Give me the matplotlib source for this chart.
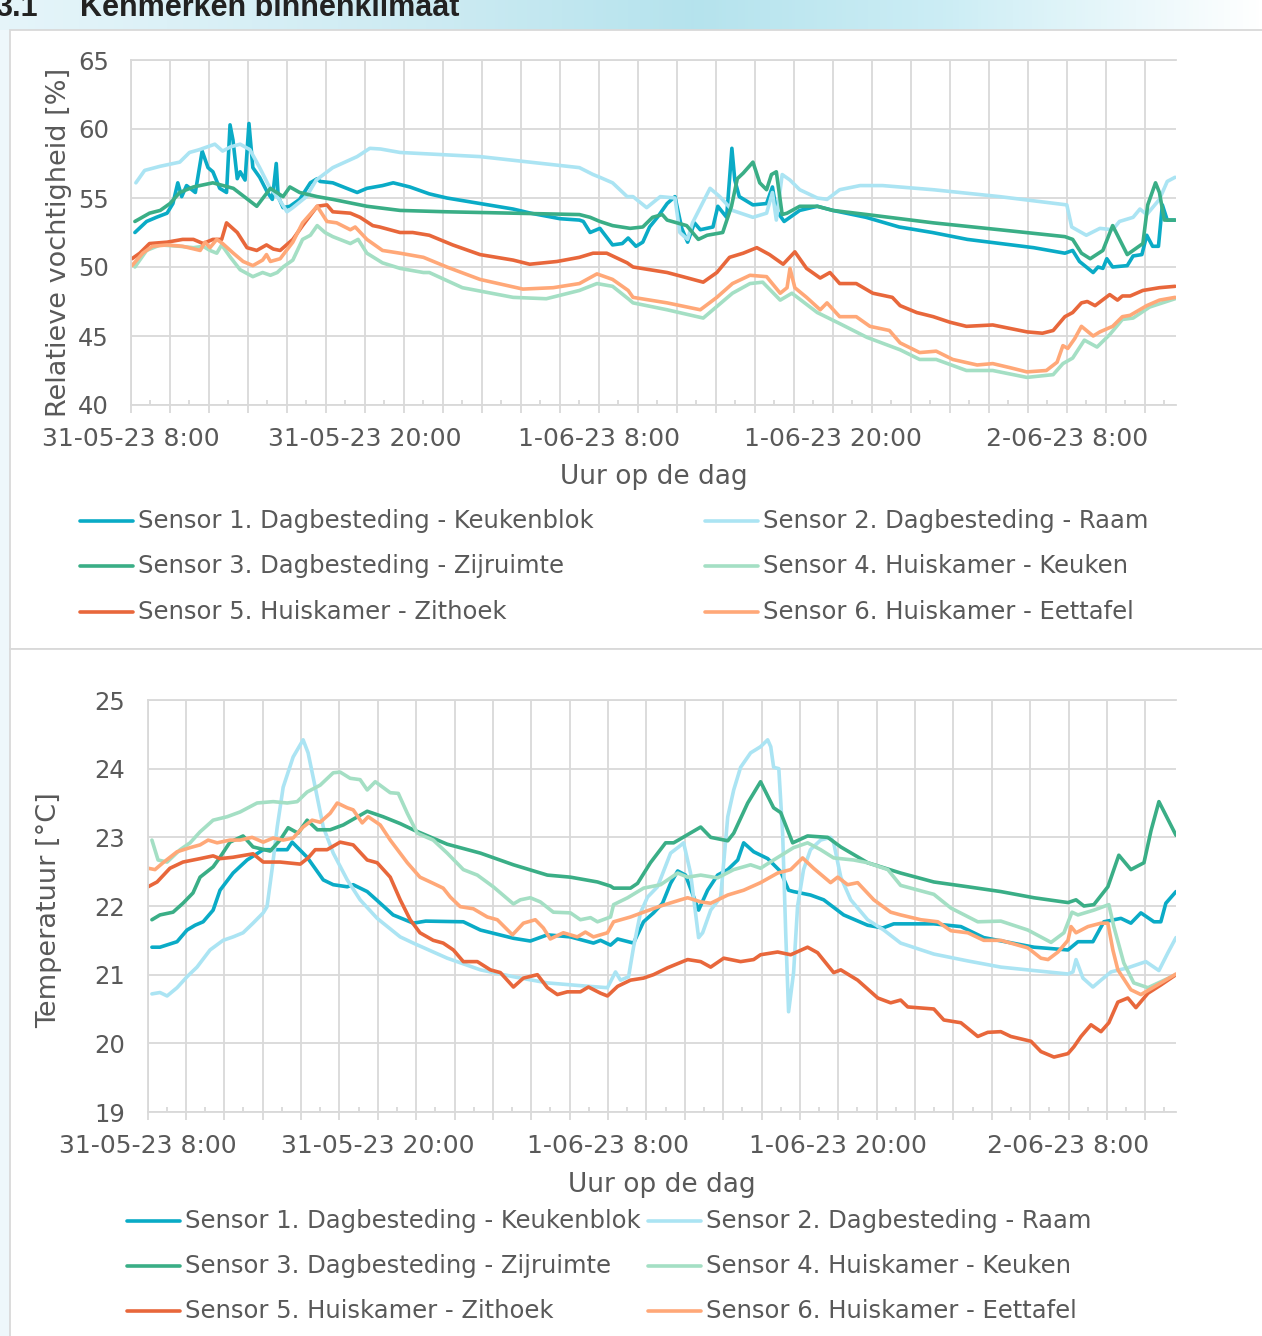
import datetime as dt
import numpy as np
import matplotlib
matplotlib.use("Agg")
import matplotlib.pyplot as plt
from matplotlib.lines import Line2D
from matplotlib.patches import Rectangle
from matplotlib.ticker import MultipleLocator, FuncFormatter

plt.rcParams['font.family'] = ['DejaVu Sans']

# meetperiode: uren vanaf 31-05-23 8:00
START = dt.datetime(2023, 5, 31, 8, 0)
T_END = 53.6

labels = ['Sensor 1. Dagbesteding - Keukenblok', 'Sensor 2. Dagbesteding - Raam',
          'Sensor 3. Dagbesteding - Zijruimte', 'Sensor 4. Huiskamer - Keuken',
          'Sensor 5. Huiskamer - Zithoek', 'Sensor 6. Huiskamer - Eettafel']
colors = ['#0aabc6', '#abe4f3', '#3aae86', '#a4dfc4', '#e8673b', '#ffa878']

# ---- relatieve vochtigheid [%] ----
rh1_t = [0.2, 0.8, 1.3, 1.85, 2.15, 2.4, 2.6, 2.85, 3.3, 3.65, 3.95, 4.2, 4.55, 4.9, 5.08, 5.23, 5.45, 5.6, 5.85,
         6.05, 6.25, 6.6, 7.0, 7.25, 7.45, 7.55, 7.8, 8.15, 8.65, 9.2, 9.55, 9.7, 10.35, 11.6, 12.1, 12.9, 13.45,
         14.3, 15.3, 16.2, 17.9, 19.6, 20.5, 22.0, 23.0, 23.2, 23.55, 24.05, 24.7, 25.2, 25.5, 25.9, 26.25, 26.6,
         27.0, 27.5, 27.9, 28.25, 28.55, 28.9, 29.2, 29.85, 30.1, 30.55, 30.82, 30.97, 31.2, 31.9, 32.6, 32.9,
         33.1, 33.5, 34.3, 35.2, 36.0, 37.7, 39.4, 41.1, 42.9, 44.6, 46.3, 47.9, 48.3, 48.65, 49.35, 49.6, 49.85,
         50.05, 50.35, 51.1, 51.4, 51.85, 52.1, 52.4, 52.7, 52.9, 53.15, 53.55]
rh1_v = [52.5, 53.3, 53.6, 53.9, 54.6, 56.1, 55.1, 55.9, 55.4, 58.4, 57.2, 56.9, 55.7, 55.4, 60.3, 59.2, 56.4, 56.9, 56.3,
         60.4, 57.2, 56.5, 55.4, 54.9, 57.5, 55.1, 54.3, 54.4, 54.9, 56.1, 56.4, 56.2, 56.1, 55.4, 55.7, 55.9, 56.1,
         55.8, 55.3, 55.0, 54.6, 54.2, 53.9, 53.5, 53.4, 53.3, 52.5, 52.8, 51.6, 51.7, 52.1, 51.5, 51.8, 52.9,
         53.6, 54.6, 55.1, 52.8, 51.8, 53.2, 52.7, 52.9, 54.4, 53.6, 58.6, 56.3, 55.1, 54.5, 54.6, 55.8,
         54.1, 53.3, 54.1, 54.4, 54.1, 53.6, 52.9, 52.5, 52.0, 51.7, 51.4, 51.0, 51.2, 50.4, 49.6, 50.0, 49.9,
         50.6, 50.0, 50.1, 50.8, 50.9, 52.3, 51.5, 51.5, 54.5, 53.4, 53.4]

rh2_t = [0.25, 0.7, 1.5, 2.5, 3.0, 3.5, 4.3, 4.7, 5.1, 5.6, 6.1, 6.6, 7.1, 7.6, 8.0, 8.3, 9.0, 9.5, 10.35, 11.6,
         12.25, 12.8, 13.8, 17.9, 23.0, 23.7, 24.05, 24.7, 25.45, 25.75, 26.45, 27.15, 27.9, 28.15, 28.55, 28.8,
         29.7, 30.2, 30.85, 31.9, 32.6, 32.9, 33.1, 33.4, 33.8, 34.3, 35.2, 35.7, 36.35, 37.4, 38.55, 41.15,
         44.55, 48.0, 48.25, 49.0, 49.7, 50.35, 50.7, 51.4, 51.75, 52.1, 52.75, 53.15, 53.55]
rh2_v = [56.1, 57.0, 57.3, 57.6, 58.3, 58.5, 58.9, 58.4, 58.7, 58.9, 58.5, 57.2, 55.8, 54.9, 54.0, 54.3, 55.1, 56.3,
         57.2, 58.0, 58.6, 58.55, 58.3, 58.0, 57.2, 56.7, 56.5, 56.1, 55.1, 55.1, 54.3, 55.1, 55.0, 52.5, 52.0,
         53.2, 55.7, 55.1, 54.1, 53.6, 53.9, 55.4, 53.4, 56.7, 56.3, 55.6, 55.0, 54.9, 55.6, 55.9, 55.9, 55.6,
         55.1, 54.5, 52.9, 52.3, 52.8, 52.7, 53.3, 53.6, 54.2, 53.8, 54.9, 56.2, 56.5]

rh3_t = [0.2, 0.95, 1.5, 2.0, 2.5, 3.2, 4.2, 5.25, 6.45, 7.15, 7.8, 8.15, 8.65, 9.55, 10.35, 12.1, 13.8, 16.2,
         23.0, 23.55, 24.05, 24.7, 25.6, 26.25, 26.75, 27.25, 27.5, 28.5, 29.1, 29.55, 30.35, 30.8, 31.1, 31.4,
         31.9, 32.25, 32.6, 32.85, 33.1, 33.4, 33.65, 34.3, 35.2, 36.0, 37.75, 41.15, 44.55, 47.9, 48.3, 48.75,
         49.2, 49.85, 50.35, 51.1, 51.6, 51.9, 52.15, 52.55, 52.75, 53.0, 53.55]
rh3_v = [53.3, 53.9, 54.1, 54.6, 55.4, 55.8, 56.1, 55.7, 54.4, 55.7, 55.1, 55.8, 55.4, 55.1, 54.9, 54.4, 54.1, 54.0,
         53.8, 53.6, 53.3, 53.0, 52.8, 52.9, 53.6, 53.8, 53.4, 53.0, 52.0, 52.3, 52.5, 54.4, 56.4, 56.8,
         57.6, 56.1, 55.6, 56.7, 56.9, 53.8, 53.9, 54.4, 54.4, 54.1, 53.8, 53.2, 52.7, 52.2, 52.0, 51.0,
         50.6, 51.2, 53.0, 50.9, 51.4, 51.7, 54.5, 56.1, 55.4, 53.4, 53.4]

rh4_t = [0.2, 0.8, 1.5, 2.5, 3.2, 3.7, 4.05, 4.4, 4.65, 5.1, 5.6, 6.25, 6.75, 7.15, 7.5, 7.8, 8.3, 8.8, 9.2, 9.55,
         9.95, 10.35, 11.25, 11.65, 12.1, 12.9, 13.8, 15.0, 15.3, 17.0, 19.6, 21.3, 23.0, 23.9, 24.7, 25.5,
         25.75, 27.5, 29.35, 30.85, 31.75, 32.4, 33.3, 33.9, 35.2, 36.35, 37.75, 39.45, 40.45, 41.3, 42.85,
         44.2, 45.95, 47.3, 47.8, 48.3, 48.9, 49.55, 50.2, 50.85, 51.4, 52.25, 53.55]
rh4_v = [50.0, 51.2, 51.6, 51.5, 51.4, 51.5, 51.2, 51.0, 51.6, 50.7, 49.8, 49.3, 49.6, 49.4, 49.6, 50.0, 50.5, 52.0,
         52.3, 53.0, 52.5, 52.2, 51.7, 52.0, 51.0, 50.3, 49.9, 49.6, 49.6, 48.5, 47.8, 47.7, 48.3, 48.8, 48.6,
         47.7, 47.4, 46.9, 46.3, 48.1, 48.8, 48.9, 47.6, 48.1, 46.7, 45.9, 44.9, 44.0, 43.3, 43.3, 42.5,
         42.5, 42.0, 42.2, 43.0, 43.4, 44.7, 44.2, 45.1, 46.2, 46.3, 47.1, 47.7]

rh5_t = [0.05, 0.45, 0.95, 1.85, 2.65, 3.2, 3.7, 4.2, 4.65, 4.9, 5.45, 5.95, 6.45, 6.95, 7.3, 7.65, 8.3, 8.8, 9.55,
         10.05, 10.35, 11.25, 11.75, 12.4, 12.75, 13.8, 14.45, 15.3, 16.5, 17.9, 19.6, 20.45, 21.85, 23.0,
         23.7, 24.4, 25.45, 25.75, 27.5, 28.3, 29.35, 30.05, 30.7, 31.4, 32.1, 32.75, 33.45, 34.05, 34.65,
         35.35, 35.85, 36.35, 37.2, 38.05, 39.05, 39.45, 40.3, 41.15, 42.0, 42.85, 44.2, 44.9, 45.95, 46.75,
         47.3, 47.9, 48.3, 48.75, 49.05, 49.45, 50.2, 50.6, 50.85, 51.25, 51.9, 52.75, 53.55]
rh5_v = [50.6, 51.0, 51.7, 51.8, 52.0, 52.0, 51.7, 52.0, 52.0, 53.2, 52.5, 51.4, 51.2, 51.6, 51.3, 51.2, 52.0, 53.0, 54.4,
         54.5, 54.0, 53.9, 53.6, 53.0, 52.9, 52.5, 52.5, 52.3, 51.6, 50.9, 50.5, 50.2, 50.4, 50.7,
         51.0, 51.0, 50.3, 50.0, 49.6, 49.3, 48.9, 49.6, 50.7, 51.0, 51.4, 50.9, 50.2, 51.1, 49.9,
         49.2, 49.6, 48.8, 48.8, 48.1, 47.8, 47.2, 46.7, 46.4, 46.0, 45.7, 45.8, 45.6, 45.3, 45.2,
         45.4, 46.4, 46.7, 47.4, 47.5, 47.2, 48.0, 47.6, 47.9, 47.9, 48.3, 48.5, 48.6]

rh6_t = [0.05, 0.6, 1.1, 1.85, 2.65, 3.55, 3.8, 4.05, 4.4, 4.7, 5.25, 5.75, 6.25, 6.75, 6.95, 7.15, 7.65, 8.3, 8.8,
         9.55, 10.05, 10.55, 11.25, 11.5, 12.1, 12.9, 13.8, 15.0, 16.2, 17.9, 20.1, 21.65, 23.0, 23.9, 24.7,
         25.5, 25.75, 27.5, 29.2, 30.05, 30.85, 31.75, 32.6, 33.3, 33.65, 33.8, 34.05, 34.65, 35.35, 35.7,
         36.35, 37.2, 37.9, 38.9, 39.45, 40.45, 41.3, 42.15, 43.4, 44.2, 45.1, 45.95, 46.95, 47.5, 47.8,
         48.05, 48.4, 48.75, 49.35, 49.7, 50.35, 50.85, 51.25, 52.1, 52.75, 53.55]
rh6_v = [50.1, 51.0, 51.5, 51.6, 51.5, 51.2, 51.8, 51.4, 52.0, 51.7, 51.0, 50.4, 50.1, 50.5, 50.9, 50.4, 50.6, 51.8, 53.2,
         54.4, 53.3, 53.2, 52.7, 52.9, 52.0, 51.2, 51.0, 50.7, 50.0, 49.1, 48.4, 48.5, 48.8, 49.5, 49.1,
         48.3, 47.8, 47.4, 46.9, 47.8, 48.8, 49.4, 49.3, 48.1, 48.5, 49.9, 48.5, 47.8, 46.9, 47.4,
         46.4, 46.4, 45.7, 45.4, 44.5, 43.8, 43.9, 43.3, 42.9, 43.0, 42.7, 42.4, 42.5, 43.1, 44.3,
         44.1, 44.8, 45.7, 45.0, 45.3, 45.7, 46.4, 46.5, 47.2, 47.6, 47.8]

# ---- temperatuur [°C] ----
tc1_t = [0.23, 0.65, 1.54, 2.06, 2.48, 2.9, 3.42, 3.78, 4.46, 5.19, 6.03, 6.55, 7.28, 7.54, 8.32, 9.16, 9.68,
         10.41, 10.72, 11.45, 12.13, 12.8, 13.85, 14.5, 16.46, 17.35, 19.07, 19.95, 20.84, 22.04, 23.24, 23.61,
         24.13, 24.5, 25.33, 25.85, 26.37, 26.84, 27.26, 27.63, 28.04, 28.72, 29.19, 29.71, 30.24, 30.76,
         31.07, 31.59, 32.32, 33.0, 33.41, 33.67, 34.55, 35.24, 36.28, 37.53, 38.32, 38.89, 40.98, 42.39,
         43.58, 46.2, 47.97, 48.49, 49.27, 49.84, 50.73, 51.25, 51.77, 52.45, 52.81, 53.07, 53.6]
tc1_v = [21.40, 21.40, 21.48, 21.65, 21.72, 21.77, 21.94, 22.23, 22.48, 22.67, 22.82, 22.82, 22.82, 22.93, 22.71,
         22.38, 22.31, 22.28, 22.31, 22.21, 22.04, 21.87, 21.75, 21.78, 21.77, 21.65, 21.53, 21.49, 21.58, 21.55,
         21.46, 21.50, 21.43, 21.52, 21.46, 21.77, 21.90, 22.04, 22.33, 22.51, 22.45, 21.94, 22.23, 22.45,
         22.53, 22.67, 22.92, 22.79, 22.69, 22.50, 22.23, 22.21, 22.16, 22.09, 21.87, 21.72, 21.68, 21.74,
         21.74, 21.70, 21.54, 21.40, 21.36, 21.48, 21.48, 21.77, 21.82, 21.75, 21.90, 21.77, 21.77, 22.04, 22.21]

tc2_t = [0.23, 0.65, 1.02, 1.54, 2.06, 2.58, 3.26, 3.94, 4.46, 4.98, 5.5, 6.03, 6.23, 6.49, 6.76, 7.07, 7.59,
         8.11, 8.37, 8.74, 9.16, 9.68, 10.41, 11.08, 11.97, 13.17, 13.85, 15.62, 17.35, 19.07, 20.84, 22.56,
         23.97, 24.39, 24.65, 25.07, 25.33, 25.69, 26.06, 26.58, 27.26, 27.68, 27.94, 28.3, 28.72, 28.93,
         29.35, 29.87, 30.24, 30.55, 30.91, 31.43, 31.95, 32.32, 32.48, 32.63, 32.9, 33.1, 33.26, 33.41,
         33.67, 33.88, 34.19, 34.55, 35.08, 35.6, 35.76, 36.13, 36.65, 37.53, 38.37, 39.25, 40.98, 42.75,
         44.47, 46.2, 47.97, 48.23, 48.39, 48.75, 49.27, 49.69, 50.21, 51.09, 52.03, 52.71, 53.18, 53.6]
tc2_v = [20.72, 20.74, 20.69, 20.81, 20.97, 21.11, 21.36, 21.50, 21.55, 21.61, 21.75, 21.90, 21.99, 22.53, 23.15,
         23.73, 24.17, 24.42, 24.23, 23.73, 23.15, 22.77, 22.38, 22.09, 21.82, 21.55, 21.46, 21.24, 21.07,
         20.97, 20.88, 20.84, 20.81, 21.04, 20.92, 20.97, 21.40, 21.90, 22.13, 22.28, 22.77, 22.86, 22.92,
         22.48, 21.54, 21.61, 21.94, 22.13, 23.30, 23.69, 24.02, 24.23, 24.32, 24.42, 24.32, 24.02, 24.00,
         23.06, 21.61, 20.46, 21.03, 22.00, 22.53, 22.82, 22.96, 23.00, 22.92, 22.42, 22.09, 21.80, 21.65,
         21.46, 21.30, 21.20, 21.11, 21.06, 21.01, 21.04, 21.22, 20.95, 20.82, 20.92, 21.04, 21.10, 21.19,
         21.06, 21.32, 21.54]

tc3_t = [0.23, 0.65, 1.33, 1.85, 2.37, 2.74, 3.42, 3.78, 4.3, 4.98, 5.5, 6.39, 6.91, 7.33, 7.85, 8.32, 8.85,
         9.52, 10.2, 11.45, 12.28, 13.17, 13.85, 15.62, 17.35, 19.07, 20.84, 22.04, 23.45, 24.13, 24.29, 25.17,
         25.54, 26.21, 27.0, 27.42, 28.83, 29.35, 30.24, 30.55, 31.28, 31.95, 32.63, 33.0, 33.62, 34.4, 35.45,
         36.13, 37.53, 39.25, 40.98, 42.75, 44.47, 46.2, 47.97, 48.39, 48.8, 49.32, 50.05, 50.62, 51.25,
         51.93, 52.3, 52.71, 53.6]
tc3_v = [21.80, 21.87, 21.91, 22.04, 22.19, 22.42, 22.57, 22.71, 22.93, 23.02, 22.86, 22.80, 22.96, 23.14, 23.06,
         23.25, 23.11, 23.11, 23.18, 23.38, 23.30, 23.20, 23.11, 22.90, 22.77, 22.60, 22.45, 22.42, 22.35,
         22.29, 22.26, 22.26, 22.33, 22.63, 22.92, 22.92, 23.15, 23.00, 22.95, 23.06, 23.50, 23.81, 23.43,
         23.36, 22.92, 23.02, 23.00, 22.86, 22.63, 22.48, 22.35, 22.28, 22.21, 22.12, 22.05, 22.09, 22.00,
         22.02, 22.28, 22.74, 22.53, 22.63, 23.10, 23.52, 23.03]

tc4_t = [0.23, 0.55, 1.02, 1.7, 2.22, 2.74, 3.42, 4.15, 4.83, 5.71, 6.55, 7.28, 7.8, 8.32, 9.0, 9.68, 10.04,
         10.56, 11.08, 11.45, 11.87, 12.65, 13.07, 13.54, 14.06, 14.89, 15.62, 16.46, 17.19, 18.02, 19.07,
         19.43, 19.95, 20.47, 21.15, 22.04, 22.56, 23.09, 23.45, 24.13, 24.29, 25.02, 25.85, 26.74, 27.63,
         28.15, 28.83, 29.71, 30.55, 31.43, 31.95, 32.63, 33.67, 34.4, 35.08, 35.76, 36.8, 37.53, 38.58,
         39.25, 40.98, 41.87, 43.27, 44.47, 45.88, 47.09, 47.76, 48.18, 48.49, 49.32, 50.1, 50.36, 50.88,
         51.4, 52.14, 53.6]
tc4_v = [22.96, 22.67, 22.64, 22.82, 22.92, 23.08, 23.25, 23.30, 23.37, 23.50, 23.52, 23.50, 23.52, 23.66, 23.76,
         23.94, 23.95, 23.86, 23.84, 23.69, 23.81, 23.65, 23.64, 23.35, 23.06, 22.96, 22.77, 22.53, 22.45,
         22.28, 22.03, 22.09, 22.12, 22.06, 21.91, 21.90, 21.80, 21.83, 21.77, 21.84, 22.02, 22.12, 22.26,
         22.31, 22.48, 22.42, 22.45, 22.41, 22.53, 22.60, 22.55, 22.67, 22.85, 22.92, 22.82, 22.70, 22.67,
         22.63, 22.53, 22.30, 22.17, 21.97, 21.77, 21.78, 21.65, 21.47, 21.61, 21.91, 21.87, 21.94, 22.02,
         21.70, 21.17, 20.88, 20.81, 21.00]

tc5_t = [0.03, 0.5, 1.17, 1.85, 2.74, 3.42, 3.78, 4.46, 5.5, 6.03, 6.91, 7.96, 8.37, 8.74, 9.36, 10.04, 10.72,
         11.45, 11.97, 12.65, 13.17, 13.69, 14.2, 14.89, 15.41, 15.94, 16.46, 17.19, 17.87, 18.39, 19.07,
         19.59, 20.32, 20.84, 21.36, 21.88, 22.56, 22.98, 23.61, 23.97, 24.5, 25.17, 25.85, 26.37, 27.1,
         28.15, 28.83, 29.35, 30.03, 30.91, 31.59, 31.95, 32.84, 33.52, 34.4, 34.92, 35.76, 36.13, 37.01,
         38.06, 38.73, 39.25, 39.62, 40.98, 41.5, 42.39, 43.27, 43.79, 44.47, 44.99, 46.04, 46.56, 47.24,
         47.97, 48.28, 48.65, 49.17, 49.69, 50.1, 50.57, 51.09, 51.51, 52.14, 52.81, 53.6]
tc5_v = [22.28, 22.35, 22.55, 22.64, 22.69, 22.73, 22.69, 22.71, 22.76, 22.64, 22.64, 22.61, 22.70, 22.82, 22.82,
         22.93, 22.89, 22.67, 22.63, 22.42, 22.09, 21.80, 21.61, 21.50, 21.46, 21.36, 21.19, 21.19, 21.07,
         21.03, 20.82, 20.95, 21.00, 20.81, 20.71, 20.75, 20.75, 20.82, 20.73, 20.69, 20.83, 20.92, 20.95,
         21.00, 21.10, 21.22, 21.19, 21.11, 21.24, 21.19, 21.22, 21.29, 21.33, 21.29, 21.40, 21.32, 21.03,
         21.07, 20.92, 20.66, 20.59, 20.63, 20.53, 20.50, 20.34, 20.30, 20.10, 20.16, 20.17, 20.10, 20.03,
         19.88, 19.80, 19.85, 19.95, 20.10, 20.27, 20.17, 20.30, 20.60, 20.66, 20.52, 20.73, 20.85, 21.00]

tc6_t = [0.03, 0.39, 0.81, 1.54, 2.22, 2.74, 3.16, 3.63, 4.3, 4.83, 5.45, 6.03, 6.55, 7.07, 7.59, 8.11, 8.58,
         9.0, 9.52, 9.89, 10.41, 10.72, 11.19, 11.5, 12.13, 12.65, 13.54, 14.2, 14.89, 15.41, 15.78, 16.3,
         16.98, 17.71, 18.23, 19.02, 19.59, 20.21, 20.63, 20.99, 21.67, 22.4, 22.82, 23.24, 23.97, 24.29,
         25.17, 25.85, 26.74, 27.78, 28.15, 28.83, 29.35, 30.24, 31.07, 31.95, 32.84, 33.52, 34.14, 34.71,
         35.6, 35.97, 36.49, 37.01, 37.85, 38.73, 39.25, 40.3, 41.19, 41.87, 42.75, 43.58, 44.47, 45.88,
         46.56, 46.93, 47.45, 47.97, 48.13, 48.39, 49.01, 49.69, 50.05, 50.31, 50.57, 51.25, 51.77, 52.81,
         53.6]
tc6_v = [22.55, 22.53, 22.63, 22.79, 22.85, 22.89, 22.96, 22.92, 22.96, 22.96, 23.00, 22.93, 22.99, 22.96, 22.99,
         23.15, 23.25, 23.22, 23.35, 23.50, 23.43, 23.40, 23.21, 23.30, 23.18, 22.96, 22.63, 22.42, 22.33,
         22.26, 22.13, 21.99, 21.96, 21.84, 21.80, 21.58, 21.75, 21.80, 21.68, 21.52, 21.61, 21.55, 21.62,
         21.55, 21.61, 21.77, 21.84, 21.91, 22.00, 22.09, 22.12, 22.06, 22.04, 22.16, 22.23, 22.34, 22.48,
         22.53, 22.70, 22.55, 22.34, 22.42, 22.31, 22.34, 22.09, 21.91, 21.87, 21.80, 21.77, 21.64, 21.61,
         21.50, 21.50, 21.39, 21.24, 21.22, 21.33, 21.50, 21.70, 21.61, 21.70, 21.75, 21.75, 21.36, 21.07,
         20.78, 20.71, 20.88, 21.01]

rh_series = [(rh1_t, rh1_v), (rh2_t, rh2_v), (rh3_t, rh3_v), (rh4_t, rh4_v), (rh5_t, rh5_v), (rh6_t, rh6_v)]
tc_series = [(tc1_t, tc1_v), (tc2_t, tc2_v), (tc3_t, tc3_v), (tc4_t, tc4_v), (tc5_t, tc5_v), (tc6_t, tc6_v)]

GRID = '#d9d9d9'
TXT = '#595959'
W, H = 1262, 1336

fig = plt.figure(figsize=(W / 100, H / 100), dpi=100)
fig.patch.set_facecolor('#eef7fb')


def fx(px):
    return px / W


def fy(py):
    return 1 - py / H


# kopbalk met verloop
bg = fig.add_axes([0, 0, 1, 1], zorder=-10)
bg.axis('off')
xs = np.linspace(0, 1, 400)
stops_x = [0, 0.35, 0.55, 0.75, 1.0]
stops_c = np.array([[0.90, 0.96, 0.98], [0.80, 0.92, 0.95], [0.71, 0.89, 0.93],
                    [0.80, 0.93, 0.96], [1.0, 1.0, 1.0]])
band = np.stack([np.interp(xs, stops_x, stops_c[:, i]) for i in range(3)], axis=-1)
bg.imshow(band[None, :, :], extent=[0, 1, fy(30), 1], aspect='auto')
bg.set_xlim(0, 1)
bg.set_ylim(0, 1)
bg.add_patch(Rectangle((fx(10), fy(649)), 1.0, fy(30) - fy(649), facecolor='white',
                       edgecolor=GRID, lw=1.3))
bg.add_patch(Rectangle((fx(10), -0.01), 1.0, fy(649) + 0.01, facecolor='white',
                       edgecolor=GRID, lw=1.3))
head_font = dict(family=['Liberation Sans Narrow', 'Liberation Sans', 'DejaVu Sans'],
                 fontsize=22, fontweight='bold', color='#222222', va='baseline')
fig.text(fx(38), fy(16), '3.1', ha='right', **head_font)
fig.text(fx(80), fy(16), 'Kenmerken binnenklimaat', ha='left', **head_font)


def fmt_time(h, pos):
    hr = int(round(h))
    if hr % 12 != 0:
        return ''
    d = START + dt.timedelta(hours=hr)
    return f"{d.day}-{d.month:02d}-{d:%y} {d.hour}:{d.minute:02d}"


def draw(ax, series, ylim, ystep, ylabel, ylab_x, ylab_y, xlab_y):
    for (t, v), c in zip(series, colors):
        ax.plot(t, v, color=c, lw=2.6, solid_joinstyle='round', solid_capstyle='round')
    ax.set_xlim(0, T_END)
    ax.set_ylim(*ylim)
    ax.xaxis.set_major_locator(MultipleLocator(2))
    ax.xaxis.set_minor_locator(MultipleLocator(1))
    ax.xaxis.set_major_formatter(FuncFormatter(fmt_time))
    ax.yaxis.set_major_locator(MultipleLocator(ystep))
    ax.grid(True, which='major', color=GRID, lw=1.3)
    ax.set_axisbelow(True)
    ax.tick_params(axis='x', which='major', direction='out', length=6, width=1.3, color=GRID,
                   labelsize=18, labelcolor=TXT, pad=10)
    ax.tick_params(axis='x', which='minor', direction='in', length=3.6, width=1.3, color=GRID)
    ax.tick_params(axis='y', length=0, labelsize=17.5, labelcolor=TXT, pad=16)
    ax.spines['right'].set_visible(False)
    for s in ['top', 'bottom', 'left']:
        ax.spines[s].set_color(GRID)
        ax.spines[s].set_linewidth(1.3)
    ax.set_xlabel('Uur op de dag', fontsize=19, color=TXT)
    ax.set_ylabel(ylabel, fontsize=19.5, color=TXT)
    ax.xaxis.set_label_coords(0.5, xlab_y)
    ax.xaxis.label.set_va('center')
    ax.yaxis.set_label_coords(ylab_x, ylab_y)
    ax.yaxis.label.set_va('center')


ax1 = fig.add_axes([fx(131), fy(405), fx(1176) - fx(131), fy(60) - fy(405)])
draw(ax1, rh_series, (40, 65), 5, 'Relatieve vochtigheid [%]', -0.069, 0.471, -0.21)

ax2 = fig.add_axes([fx(147.5), fy(1112), fx(1176) - fx(147.5), fy(700) - fy(1112)])
draw(ax2, tc_series, (19, 25), 1, 'Temperatuur [°C]', -0.0953, 0.49, -0.178)


def legend(rows_y, col_x):
    # twee kolommen, rij-voor-rij: 1|2, 3|4, 5|6
    for i, (lab, c) in enumerate(zip(labels, colors)):
        x0 = col_x[i % 2]
        y = fy(rows_y[i // 2])
        fig.add_artist(Line2D([fx(x0), fx(x0 + 53)], [y, y], color=c, lw=2.6,
                              solid_capstyle='round'))
        fig.text(fx(x0 + 58), y, lab, fontsize=17.5, color=TXT, va='center', ha='left')


legend([521, 566, 612], [80, 705])
legend([1221, 1266, 1311], [127, 648])

fig.savefig('out.png', dpi=100, facecolor=fig.get_facecolor())
